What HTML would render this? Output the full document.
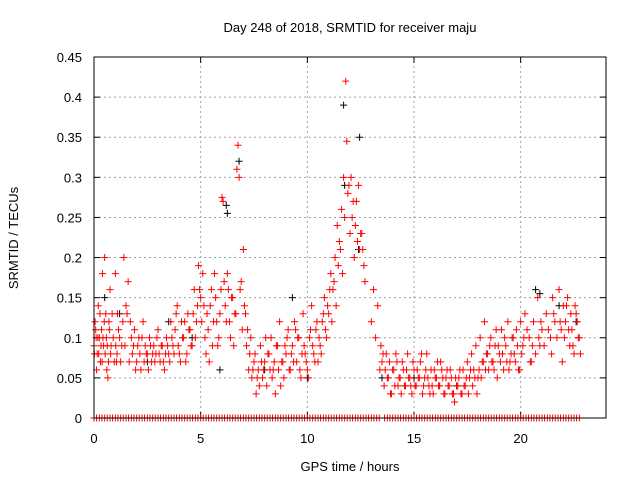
<!DOCTYPE html>
<html><head><meta charset="utf-8"><style>
body{margin:0;background:#fff;}
svg{display:block;font-family:"Liberation Sans",sans-serif;}
</style></head><body>
<svg id="chart" width="640" height="480">
<text x="350" y="32" font-size="13" text-anchor="middle">Day 248 of 2018, SRMTID for receiver maju</text>
<text x="350" y="471" font-size="13" text-anchor="middle">GPS time / hours</text>
<text transform="translate(18,238) rotate(-90)" font-size="13" text-anchor="middle">SRMTID / TECUs</text>
<g id="grid"></g>
<g id="ticks"></g>
<g id="marks"></g>
<rect x="94" y="57" width="512" height="361" fill="none" stroke="#000" stroke-width="1"/>
</svg>
<script>
const xTicks=[0,5,10,15,20];
const yTicks=[0,0.05,0.1,0.15,0.2,0.25,0.3,0.35,0.4,0.45];
const yTickLabels=["0","0.05","0.1","0.15","0.2","0.25","0.3","0.35","0.4","0.45"];
const redT=[0,.05,.1,.15,.2,.25,.3,.35,.4,.45,.5,.55,.6,.65,.7,.75,.8,.9,1,1.05,1.1,1.2,1.3,1.4,1.5,1.6,1.7,1.8,1.9,2,2.1,2.2,2.3,2.4,2.5,2.6,2.7,2.8,2.9,3,3.1,3.2,3.3,3.4,3.5,3.6,3.7,3.8,3.9,4,4.1,4.2,4.3,4.4,4.5,4.6,4.7,4.8,4.9,5,5.1,5.2,5.3,5.4,5.5,5.6,5.7,5.8,5.9,6,6.05,6.1,6.2,6.3,6.4,6.5,6.6,6.7,6.75,6.8,6.9,7,7.1,7.2,7.3,7.4,7.5,7.6,7.7,7.8,7.9,8,8.1,8.2,8.3,8.4,8.5,8.6,8.7,8.8,8.9,9,9.1,9.2,9.3,9.4,9.5,9.6,9.7,9.8,9.9,10,10.1,10.2,10.3,10.4,10.5,10.6,10.7,10.8,10.9,11,11.1,11.2,11.3,11.4,11.5,11.6,11.7,11.8,11.85,11.9,12,12.1,12.2,12.3,12.4,12.5,12.6,12.7,13,13.2,13.4,13.5,13.6,13.7,13.8,13.9,14,14.1,14.2,14.3,14.4,14.5,14.6,14.7,14.8,14.9,15,15.1,15.2,15.3,15.4,15.5,15.6,15.7,15.8,15.9,16,16.1,16.2,16.3,16.4,16.5,16.6,16.7,16.8,16.9,17,17.1,17.2,17.3,17.4,17.5,17.6,17.7,17.8,17.9,18,18.1,18.2,18.3,18.4,18.5,18.6,18.7,18.8,18.9,19,19.1,19.2,19.3,19.4,19.5,19.6,19.7,19.8,19.9,20,20.1,20.2,20.4,20.5,20.6,20.8,20.9,21,21.2,21.4,21.5,21.6,21.8,21.9,22,22.1,22.2,22.3,22.4,22.5,22.6,22.7,22.8];
const redV=[.09,.12,.1,.08,.14,.1,.07,.11,.18,.09,.2,.13,.06,.05,.12,.16,.09,.1,.18,.07,.13,.1,.09,.2,.14,.17,.12,.08,.11,.07,.1,.06,.12,.09,.08,.1,.07,.09,.08,.11,.07,.09,.06,.1,.08,.12,.09,.11,.14,.08,.12,.1,.07,.13,.11,.09,.16,.12,.19,.15,.18,.1,.13,.07,.16,.12,.15,.09,.13,.275,.27,.17,.12,.16,.1,.15,.13,.31,.34,.3,.17,.21,.13,.11,.08,.05,.07,.03,.06,.09,.05,.07,.04,.08,.1,.06,.03,.09,.12,.07,.05,.08,.11,.06,.09,.12,.07,.1,.05,.13,.08,.06,.1,.14,.08,.11,.07,.09,.12,.15,.1,.13,.18,.16,.2,.24,.22,.26,.3,.42,.345,.28,.23,.25,.2,.27,.29,.23,.21,.17,.12,.1,.06,.07,.04,.08,.05,.03,.06,.04,.07,.05,.03,.06,.04,.08,.05,.03,.06,.04,.05,.07,.03,.05,.08,.04,.06,.03,.05,.07,.04,.06,.03,.05,.04,.06,.03,.02,.04,.05,.03,.06,.04,.07,.05,.08,.06,.09,.05,.1,.07,.12,.08,.06,.1,.07,.09,.05,.08,.11,.06,.09,.12,.07,.1,.08,.11,.06,.12,.09,.13,.1,.07,.12,.15,.09,.11,.13,.1,.15,.12,.16,.11,.14,.12,.15,.09,.11,.08,.13,.1,.08];
const redT2=[.02,.08,.12,.18,.22,.28,.33,.38,.42,.48,.52,.58,.62,.68,.72,.78,.85,.95,1.02,1.08,1.15,1.25,1.35,1.45,1.55,1.65,1.75,1.85,1.95,2.05,2.15,2.25,2.35,2.45,2.55,2.65,2.75,2.85,2.95,3.05,3.15,3.25,3.35,3.45,3.55,3.65,3.75,3.85,3.95,4.05,4.15,4.25,4.35,4.45,4.55,4.65,4.75,4.85,4.95,5.05,5.15,5.25,5.35,5.45,5.55,5.65,5.75,5.85,5.95,6.15,6.25,6.35,6.45,6.55,6.65,6.85,6.95,7.05,7.15,7.25,7.35,7.45,7.55,7.65,7.75,7.85,7.95,8.05,8.15,8.25,8.35,8.45,8.55,8.65,8.75,8.85,8.95,9.05,9.15,9.25,9.35,9.45,9.55,9.65,9.75,9.85,9.95,10.05,10.15,10.25,10.35,10.45,10.55,10.65,10.75,10.85,10.95,11.05,11.15,11.25,11.35,11.45,11.55,11.65,11.75,11.95,12.05,12.15,12.25,12.35,12.45,12.55,12.65,13.1,13.3,13.45,13.55,13.65,13.75,13.85,13.95,14.05,14.15,14.25,14.35,14.45,14.55,14.65,14.75,14.85,14.95,15.05,15.15,15.25,15.35,15.45,15.55,15.65,15.75,15.85,15.95,16.05,16.15,16.25,16.35,16.45,16.55,16.65,16.75,16.85,16.95,17.05,17.15,17.25,17.35,17.45,17.55,17.65,17.75,17.85,17.95,18.05,18.15,18.25,18.35,18.45,18.55,18.65,18.75,18.85,18.95,19.05,19.15,19.25,19.35,19.45,19.55,19.65,19.75,19.85,19.95,20.05,20.15,20.3,20.45,20.55,20.7,20.85,20.95,21.1,21.3,21.45,21.55,21.7,21.85,21.95,22.05,22.15,22.25,22.35,22.45,22.55,22.65,22.75];
const redV2=[.08,.11,.06,.1,.08,.13,.09,.07,.1,.12,.08,.1,.09,.07,.11,.08,.13,.07,.09,.08,.11,.07,.12,.09,.13,.07,.1,.09,.06,.09,.08,.1,.07,.08,.06,.09,.08,.07,.1,.08,.09,.07,.08,.09,.07,.1,.08,.13,.09,.07,.1,.12,.08,.11,.09,.13,.1,.14,.16,.12,.14,.08,.11,.14,.09,.18,.12,.1,.16,.14,.18,.12,.15,.09,.13,.16,.11,.14,.09,.06,.1,.06,.08,.05,.04,.07,.06,.1,.08,.06,.05,.07,.09,.06,.04,.07,.09,.1,.06,.08,.07,.11,.1,.06,.08,.09,.07,.05,.11,.09,.07,.12,.1,.08,.13,.11,.14,.16,.12,.17,.14,.19,.21,.18,.25,.29,.3,.27,.24,.22,.21,.23,.19,.16,.14,.09,.08,.06,.05,.07,.03,.06,.08,.04,.05,.07,.04,.06,.05,.04,.07,.04,.06,.05,.08,.04,.06,.05,.03,.04,.06,.05,.04,.07,.05,.03,.06,.04,.05,.03,.05,.04,.06,.03,.04,.05,.03,.06,.04,.05,.03,.06,.05,.07,.06,.08,.09,.07,.06,.11,.09,.07,.08,.1,.07,.06,.08,.1,.07,.09,.06,.08,.1,.11,.07,.09,.08,.1,.12,.09,.11,.08,.13,.1,.12,.07,.1,.14,.11,.13,.09,.14,.12,.1,.13,.1,.12,.09,.11,.14];
const blackT=[.5,1.2,2.5,3.5,4.6,5.9,6.2,6.25,6.8,8,9.3,10,11.7,11.75,12.4,12.45,13.5,15,17,20.7,20.9,21.8,22.6];
const blackV=[.15,.13,.07,.12,.1,.06,.265,.255,.32,.06,.15,.05,.39,.29,.21,.35,.05,.05,.04,.16,.155,.14,.12];
const zeroT=[0,.25,.5,.75,1,1.25,1.5,1.75,2,2.25,2.5,2.75,3,3.25,3.5,3.75,4,4.25,4.5,4.75,5,5.25,5.5,5.75,6,6.25,6.5,6.75,7,7.25,7.5,7.75,8,8.25,8.5,8.75,9,9.25,9.5,9.75,10,10.25,10.5,10.75,11,11.25,11.5,11.75,12,12.25,12.5,12.75,13,13.25,13.75,14,14.25,14.5,14.75,15,15.25,15.5,15.75,16,16.25,16.5,16.75,17,17.25,17.5,17.75,18,18.25,18.5,18.75,19,19.25,19.5,19.75,20,20.25,20.5,20.75,21,21.25,21.5,21.75,22,22.25,22.5,22.75];
const zeroT2=[.12,.37,.62,.87,1.12,1.37,1.62,1.87,2.12,2.37,2.62,2.87,3.12,3.37,3.62,3.87,4.12,4.37,4.62,4.87,5.12,5.37,5.62,5.87,6.12,6.37,6.62,6.87,7.12,7.37,7.62,7.87,8.12,8.37,8.62,8.87,9.12,9.37,9.62,9.87,10.12,10.37,10.62,10.87,11.12,11.37,11.62,11.87,12.12,12.37,12.62,12.87,13.12,13.37,13.62,13.87,14.12,14.37,14.62,14.87,15.12,15.37,15.62,15.87,16.12,16.37,16.62,16.87,17.12,17.37,17.62,17.87,18.12,18.37,18.62,18.87,19.12,19.37,19.62,19.87,20.12,20.37,20.62,20.87,21.12,21.37,21.62,21.87,22.12,22.37,22.62];

const X0=94,X1=606,Y0=418,Y1=57;
const xs=t=>X0+t/24*(X1-X0);
const ys=v=>Y0-v/0.45*(Y0-Y1);
const NS="http://www.w3.org/2000/svg";
function mk(tag,attrs,parent){const e=document.createElementNS(NS,tag);for(const k in attrs)e.setAttribute(k,attrs[k]);parent.appendChild(e);return e;}
const grid=document.getElementById('grid'),ticks=document.getElementById('ticks'),marks=document.getElementById('marks');
xTicks.forEach(t=>{const x=xs(t);
 if(t>0){const g=mk('line',{x1:x,x2:x,y1:Y0,y2:Y1,stroke:'#a0a0a0','stroke-dasharray':'2,3'},grid);
 
 }
 const tx=mk('text',{x:x,y:443,'font-size':13,'text-anchor':'middle'},ticks);tx.textContent=t;
 
 
 mk('line',{x1:x,x2:x,y1:Y0,y2:Y0-6,stroke:'#000'},ticks);mk('line',{x1:x,x2:x,y1:Y1,y2:Y1+6,stroke:'#000'},ticks);
});
yTicks.forEach((v,i)=>{const y=ys(v);
 if(i>0&&i<yTicks.length-1){const g=mk('line',{x1:X0,x2:X1,y1:y,y2:y,stroke:'#a0a0a0','stroke-dasharray':'2,3'},grid);
 
 }
 const tx=mk('text',{x:82,y:y+5,'font-size':13,'text-anchor':'end'},ticks);tx.textContent=yTickLabels[i];
 
 
 mk('line',{x1:X0,x2:X0+6,y1:y,y2:y,stroke:'#000'},ticks);mk('line',{x1:X1,x2:X1-6,y1:y,y2:y,stroke:'#000'},ticks);
});
function plus(t,v,c,name){const x=xs(t),y=ys(v);
 const p=mk('path',{d:`M${x-3.5},${y}H${x+3.5}M${x},${y-3.5}V${y+3.5}`,stroke:c,'stroke-width':1,fill:'none'},marks);
 
 }
blackT.forEach((t,i)=>plus(t,blackV[i],'#000','black-point'));
redT.forEach((t,i)=>plus(t,redV[i],'#ff0000','red-point'));
redT2.forEach((t,i)=>plus(t,redV2[i],'#ff0000','red-point'));
zeroT.forEach(t=>plus(t,0,'#ff0000','zero-point'));
zeroT2.forEach(t=>plus(t,0,'#ff0000','zero-point'));
</script>
</body></html>
